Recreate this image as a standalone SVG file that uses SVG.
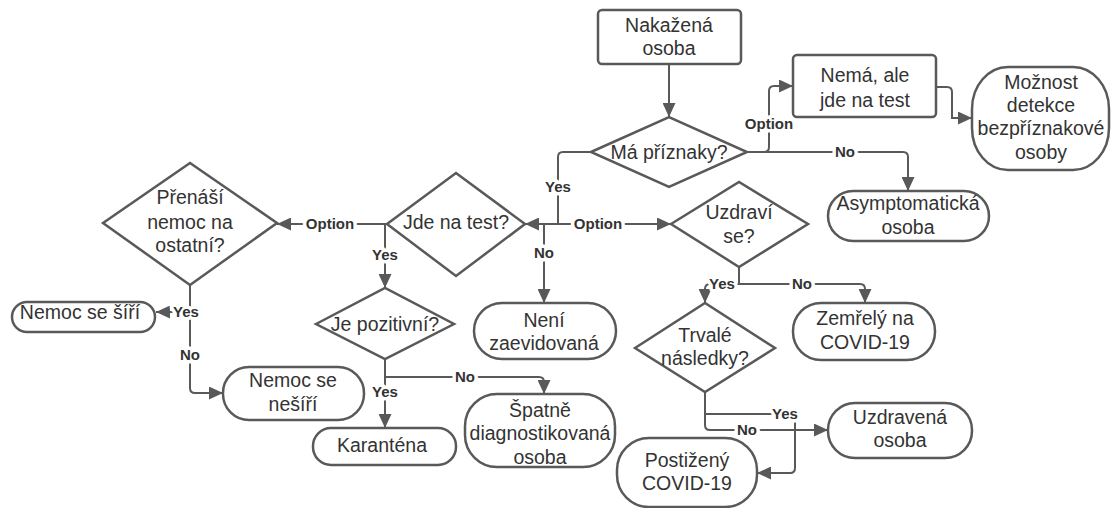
<svg xmlns="http://www.w3.org/2000/svg" width="1111" height="508" viewBox="0 0 1111 508">
<defs>
<marker id="ah" markerUnits="userSpaceOnUse" markerWidth="15" markerHeight="13" refX="14" refY="6.5" orient="auto">
<path d="M0,0 L14,6.5 L0,13 z" fill="#595959"/>
</marker>
<style>
.n{fill:#fff;stroke:#595959;stroke-width:2.5}
.t{font-family:"Liberation Sans",Arial,sans-serif;font-size:19.5px;fill:#333;text-anchor:middle}
.c path{fill:none;stroke:#595959;stroke-width:2;marker-end:url(#ah)}
.c path.p{marker-end:none}
.l{font-family:"Liberation Sans",Arial,sans-serif;font-size:15px;font-weight:bold;fill:#333;text-anchor:middle;stroke:#fff;stroke-width:7;paint-order:stroke;stroke-linejoin:round}
</style>
</defs>
<rect width="1111" height="508" fill="#fff"/>
<g id="connectors" class="c">
<path d="M669,64 V117"/>
<path d="M747,152 H764 Q769,152 769,147 V91 Q769,86 774,86 H793"/>
<path d="M747,152 H903 Q908,152 908,157 V191"/>
<path d="M936,87 H947 Q952,87 952,92 V118 H972"/>
<path d="M591,152 H563 Q558,152 558,157 V224 H525"/>
<path d="M544,224 H671"/>
<path d="M544,224 V303"/>
<path d="M387,224 H277"/>
<path d="M385,224 V288"/>
<path d="M190,285 V312 H156"/>
<path d="M190,312 V388 Q190,393 195,393 H223"/>
<path d="M385,359 V428"/>
<path d="M385,377 H539 Q544,377 544,382 V394"/>
<path class="p" d="M739,267 V284"/>
<path d="M739,284 H710 Q705,284 705,289 V303"/>
<path d="M739,284 H860 Q865,284 865,289 V303"/>
<path d="M705,392 V425 Q705,430 710,430 H828"/>
<path d="M705,414 H790 Q795,414 795,419 V468 Q795,473 790,473 H757"/>
<text class="l" x="769" y="129">Option</text>
<text class="l" x="845" y="157">No</text>
<text class="l" x="558" y="192">Yes</text>
<text class="l" x="598" y="229">Option</text>
<text class="l" x="544" y="258">No</text>
<text class="l" x="330" y="229">Option</text>
<text class="l" x="385" y="260">Yes</text>
<text class="l" x="186" y="317">Yes</text>
<text class="l" x="190" y="360">No</text>
<text class="l" x="385" y="397">Yes</text>
<text class="l" x="465" y="382">No</text>
<text class="l" x="722" y="289">Yes</text>
<text class="l" x="802" y="289">No</text>
<text class="l" x="747" y="435">No</text>
<text class="l" x="785" y="419">Yes</text>
</g>
<g id="nakazena"><rect class="n" x="598" y="10" width="143" height="54" rx="4"/><text class="t" x="669" y="32">Nakažená</text><text class="t" x="669" y="55">osoba</text></g>
<g id="ma-priznaky"><polygon class="n" points="591,152 669,117 747,152 669,187"/><text class="t" x="669" y="159">Má příznaky?</text></g>
<g id="nema"><rect class="n" x="793" y="55" width="143" height="62" rx="4"/><text class="t" x="865" y="82">Nemá, ale</text><text class="t" x="865" y="107">jde na test</text></g>
<g id="moznost"><rect class="n" x="972" y="67" width="137" height="103" rx="36" ry="42"/><text class="t" x="1041" y="89">Možnost</text><text class="t" x="1041" y="112">detekce</text><text class="t" x="1041" y="135">bezpříznakové</text><text class="t" x="1041" y="159">osoby</text></g>
<g id="asymptomaticka"><rect class="n" x="828" y="191" width="161" height="50" rx="25"/><text class="t" x="908" y="210">Asymptomatická</text><text class="t" x="908" y="234">osoba</text></g>
<g id="jde-na-test"><polygon class="n" points="387,224 456,173 525,224 456,276"/><text class="t" x="456" y="229">Jde na test?</text></g>
<g id="uzdravi"><polygon class="n" points="671,224 739,182 808,224 739,267"/><text class="t" x="739" y="219">Uzdraví</text><text class="t" x="739" y="243">se?</text></g>
<g id="prenasi"><polygon class="n" points="103,223 190,163 277,223 190,285"/><text class="t" x="190" y="204">Přenáší</text><text class="t" x="190" y="229">nemoc na</text><text class="t" x="190" y="252">ostatní?</text></g>
<g id="nemoc-se-siri"><rect class="n" x="12" y="302" width="143" height="30" rx="15"/><text class="t" x="80" y="319">Nemoc se šíří</text></g>
<g id="nemoc-se-nesiri"><rect class="n" x="223" y="367" width="141" height="53" rx="26"/><text class="t" x="293" y="387">Nemoc se</text><text class="t" x="293" y="411">nešíří</text></g>
<g id="je-pozitivni"><polygon class="n" points="316,324 385,288 454,324 385,359"/><text class="t" x="385" y="331">Je pozitivní?</text></g>
<g id="karantena"><rect class="n" x="313" y="428" width="143" height="37" rx="18"/><text class="t" x="382" y="452">Karanténa</text></g>
<g id="neni"><rect class="n" x="474" y="303" width="142" height="56" rx="28"/><text class="t" x="544" y="327">Není</text><text class="t" x="544" y="350">zaevidovaná</text></g>
<g id="spatne"><rect class="n" x="465" y="394" width="150" height="73" rx="32"/><text class="t" x="540" y="417">Špatně</text><text class="t" x="540" y="440">diagnostikovaná</text><text class="t" x="540" y="464">osoba</text></g>
<g id="trvale"><polygon class="n" points="635,348 705,303 775,348 705,392"/><text class="t" x="705" y="342">Trvalé</text><text class="t" x="705" y="365">následky?</text></g>
<g id="zemrely"><rect class="n" x="793" y="303" width="142" height="57" rx="28"/><text class="t" x="865" y="325">Zemřelý na</text><text class="t" x="865" y="349">COVID-19</text></g>
<g id="uzdravena"><rect class="n" x="828" y="403" width="144" height="55" rx="27"/><text class="t" x="900" y="424">Uzdravená</text><text class="t" x="900" y="447">osoba</text></g>
<g id="postizeny"><rect class="n" x="617" y="438" width="140" height="69" rx="32"/><text class="t" x="687" y="467">Postižený</text><text class="t" x="687" y="490">COVID-19</text></g>
</svg>
